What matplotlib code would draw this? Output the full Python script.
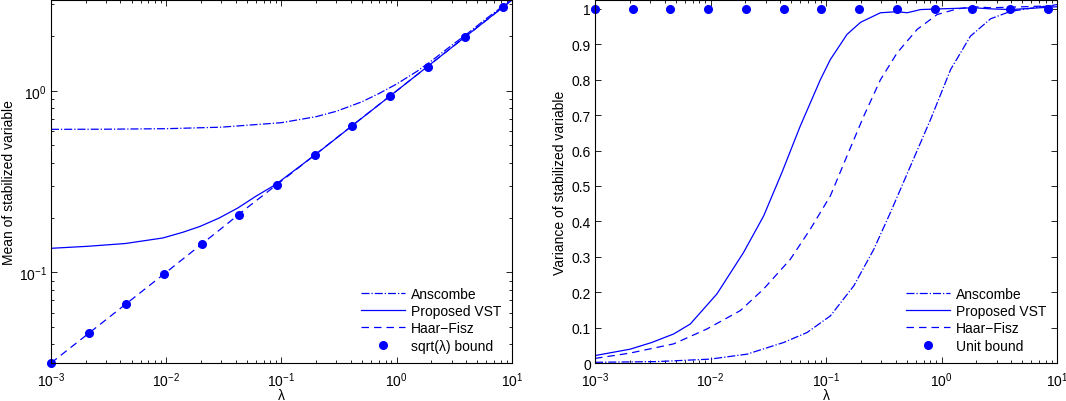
import numpy as np
import matplotlib
matplotlib.use("Agg")
import matplotlib.pyplot as plt
from matplotlib.ticker import LogLocator, NullFormatter, MultipleLocator

plt.rcParams['font.family'] = ['Liberation Sans', 'DejaVu Sans']
plt.rcParams['mathtext.fontset'] = 'custom'
plt.rcParams['mathtext.rm'] = 'Liberation Sans'
plt.rcParams['mathtext.it'] = 'Liberation Sans'

# ---------------- data ----------------
# bound points (same lambda grid for both panels)
lam_pts = [0.001, 0.00212, 0.00450, 0.00955, 0.0203, 0.0430, 0.0913,
           0.194, 0.411, 0.872, 1.85, 3.93, 8.34]
sqrt_bound = [0.0316, 0.0460, 0.0671, 0.0977, 0.1424, 0.2074, 0.3022,
              0.440, 0.641, 0.934, 1.360, 1.982, 2.888]
unit_bound = [1.0] * 13

# left panel: mean of stabilized variable
lam_ans_m = [0.001, 0.003, 0.01, 0.03, 0.1, 0.2, 0.3, 0.5, 0.7, 1.0,
             1.5, 2.0, 3.0, 4.0, 6.0, 10.0]
mean_ans = [0.613, 0.614, 0.618, 0.630, 0.667, 0.720, 0.771, 0.870, 0.965,
            1.09, 1.28, 1.46, 1.78, 2.04, 2.50, 3.19]

lam_vst_m = [0.001, 0.00208, 0.00442, 0.00935, 0.0139, 0.0197, 0.0288,
             0.0418, 0.0598, 0.0887, 0.2, 0.5, 1.0, 2.0, 4.0, 10.0]
mean_vst = [0.1355, 0.139, 0.144, 0.1545, 0.166, 0.179, 0.199, 0.226,
            0.262, 0.304, 0.448, 0.708, 1.0, 1.414, 2.0, 3.16]

lam_hf_m = [0.001, 0.01, 0.03, 0.05, 0.08, 0.1, 0.2, 0.5, 1.0, 2.0, 4.0, 10.0]
mean_hf = [0.0316, 0.100, 0.174, 0.226, 0.285, 0.318, 0.449, 0.709, 1.0,
           1.414, 2.0, 3.16]

# right panel: variance of stabilized variable
lam_vst_v = [0.001, 0.00201, 0.00310, 0.00479, 0.00667, 0.01135, 0.0193,
             0.0288, 0.0415, 0.0598, 0.0893, 0.109, 0.152, 0.199, 0.296,
             0.413, 0.504, 0.658, 0.979, 1.91, 2.66, 3.96, 10.0]
var_vst = [0.021, 0.039, 0.058, 0.082, 0.110, 0.195, 0.312, 0.415, 0.538,
           0.669, 0.800, 0.857, 0.928, 0.962, 0.989, 0.992, 0.989, 0.998,
           1.000, 1.003, 1.000, 0.998, 1.006]

lam_hf_v = [0.001, 0.00201, 0.00479, 0.00929, 0.0181, 0.0288, 0.0491,
            0.0731, 0.109, 0.152, 0.212, 0.296, 0.413, 0.615, 0.916,
            1.37, 1.91, 2.66, 10.0]
var_hf = [0.013, 0.028, 0.054, 0.096, 0.148, 0.209, 0.293, 0.378, 0.472,
          0.585, 0.697, 0.800, 0.876, 0.942, 0.984, 1.000, 1.006, 1.003,
          1.009]

lam_ans_v = [0.001, 0.00343, 0.00993, 0.0207, 0.0430, 0.0684, 0.109,
             0.174, 0.259, 0.361, 0.538, 0.804, 1.20, 1.78, 2.66, 3.96,
             6.31, 10.0]
var_ans = [0.002, 0.004, 0.011, 0.025, 0.058, 0.086, 0.133, 0.218, 0.321,
           0.425, 0.556, 0.688, 0.829, 0.923, 0.972, 0.993, 1.003, 1.012]

BLUE = (0.0, 0.0, 1.0)
FS = 10

fig = plt.figure(figsize=(10.66, 4.02), dpi=100)
ax1 = fig.add_axes([0.0478, 0.0945, 0.4325, 0.903])
ax2 = fig.add_axes([0.5582, 0.0945, 0.4334, 0.903])


def style(ax):
    ax.tick_params(which='both', direction='in', top=True, right=True,
                   labelsize=FS, width=0.6, colors='black')
    ax.tick_params(which='major', length=4)
    ax.tick_params(which='minor', length=2.2)
    ax.tick_params(axis='x', which='both', pad=5)
    ax.tick_params(axis='y', which='both', pad=3)
    for s in ax.spines.values():
        s.set_linewidth(0.8)


LEG = dict(loc='lower right', frameon=False, fontsize=FS, handlelength=3.2,
           handletextpad=0.45, labelspacing=0.24, borderaxespad=0.35,
           numpoints=1)

# ---- left ----
lw = 0.9
ax1.plot(lam_ans_m, mean_ans, '-.', color=BLUE, lw=lw, label='Anscombe')
ax1.plot(lam_vst_m, mean_vst, '-', color=BLUE, lw=lw, label='Proposed VST')
ax1.plot(lam_hf_m, mean_hf, '--', color=BLUE, lw=lw, dashes=(6, 4),
         label='Haar\u2212Fisz')
ax1.plot(lam_pts, sqrt_bound, 'o', color=BLUE, ms=5.5, clip_on=False,
         label='sqrt(\u03bb) bound')
ax1.set_xscale('log')
ax1.set_yscale('log')
ax1.set_xlim(1e-3, 10)
ax1.set_ylim(np.sqrt(1e-3), np.sqrt(10))
ax1.xaxis.set_major_locator(LogLocator(base=10, numticks=10))
ax1.xaxis.set_minor_locator(LogLocator(base=10, subs=np.arange(2, 10), numticks=20))
ax1.xaxis.set_minor_formatter(NullFormatter())
ax1.yaxis.set_minor_locator(LogLocator(base=10, subs=np.arange(2, 10), numticks=20))
ax1.yaxis.set_minor_formatter(NullFormatter())
ax1.set_xlabel('\u03bb', fontsize=FS, labelpad=-0.5)
ax1.set_ylabel('Mean of stabilized variable', fontsize=FS, labelpad=2)
style(ax1)
ax1.legend(**LEG)

# ---- right ----
ax2.plot(lam_ans_v, var_ans, '-.', color=BLUE, lw=lw, label='Anscombe')
ax2.plot(lam_vst_v, var_vst, '-', color=BLUE, lw=lw, label='Proposed VST')
ax2.plot(lam_hf_v, var_hf, '--', color=BLUE, lw=lw, dashes=(6, 4),
         label='Haar\u2212Fisz')
ax2.plot(lam_pts, unit_bound, 'o', color=BLUE, ms=5.5, clip_on=False,
         label='Unit bound')
ax2.set_xscale('log')
ax2.set_xlim(1e-3, 10)
ax2.set_ylim(0, 1.025)
ax2.yaxis.set_major_locator(MultipleLocator(0.1))
ax2.yaxis.set_major_formatter(plt.FuncFormatter(lambda v, p: f'{v:g}'))
ax2.xaxis.set_major_locator(LogLocator(base=10, numticks=10))
ax2.xaxis.set_minor_locator(LogLocator(base=10, subs=np.arange(2, 10), numticks=20))
ax2.xaxis.set_minor_formatter(NullFormatter())
ax2.set_xlabel('\u03bb', fontsize=FS, labelpad=-0.5)
ax2.set_ylabel('Variance of stabilized variable', fontsize=FS, labelpad=3)
style(ax2)
ax2.legend(**LEG)

fig.savefig('out.png', dpi=100)
